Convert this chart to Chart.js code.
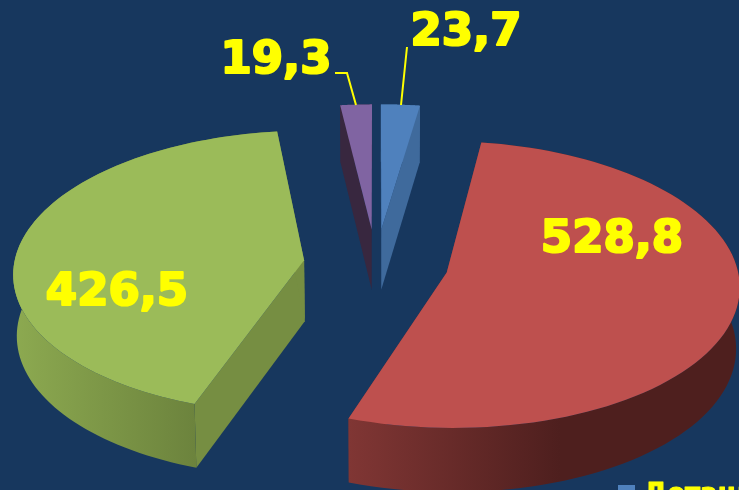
<!DOCTYPE html>
<html>
<head>
<meta charset="utf-8">
<title>Pie</title>
<script src="https://cdn.jsdelivr.net/npm/chart.js@4"></script>
<style>
  html, body { margin: 0; padding: 0; background: #17375E; overflow: hidden; }
  canvas { display: block; }
</style>
</head>
<body>
<canvas id="chart" width="739" height="490"></canvas>
<script>
const categories = ['Дотации', '', '', ''];
const values = [23.7, 528.8, 426.5, 19.3];
const valueLabels = ['23,7', '528,8', '426,5', '19,3'];

const topColors = ['#4F81BD', '#BE504E', '#9BBB59', '#8064A2'];
// flat colour of the straight walls, then left/right colour of the curved wall
const wallColors = ['#3F6A9C', '#7F3533', '#768E42', '#38273F'];
const rimColors = [
    ['#3F6A9C', '#3F6A9C', 381, 420],
    ['#803634', '#4E1F1E', 349, 560],
    ['#8CA950', '#6C833D', 16, 196],
    ['#38273F', '#38273F', 340, 372]
];
// where each value text is centred
const labelPos = [[466, 33], [612, 240], [117, 293], [276, 61]];

// view of the tilted disc
const view = { cx: 376, cy: 264, rx: 290, ry: 141, persp: 0.083, explode: 0.25 };

function project(u, v) {
    const w = 1 - view.persp * v;
    return { x: view.cx + view.rx * u / w, y: view.cy + view.ry * v / w, v: v };
}
// same point on the under side of the slice
function lower(p) {
    return { x: view.cx + (p.x - view.cx) * 0.99, y: p.y + 61 + 3 * p.v };
}
function fillPoly(ctx, pts, style) {
    ctx.beginPath();
    pts.forEach((p, i) => i ? ctx.lineTo(p.x, p.y) : ctx.moveTo(p.x, p.y));
    ctx.closePath();
    ctx.fillStyle = style;
    ctx.fill();
}

const pie3d = {
    id: 'pie3d',
    beforeDraw(chart) {
        const ctx = chart.ctx;
        ctx.save();
        ctx.fillStyle = '#17375E';
        ctx.fillRect(0, 0, chart.width, chart.height);
        ctx.restore();
    },
    // takes the angles from the pie elements and draws them tilted
    beforeDatasetsDraw(chart) {
        const ctx = chart.ctx;
        const arcs = chart.getDatasetMeta(0).data;
        ctx.save();
        arcs.forEach((arc, i) => {
            const a0 = arc.startAngle + Math.PI / 2;
            const a1 = arc.endAngle + Math.PI / 2;
            const mid = (a0 + a1) / 2;
            const ou = Math.sin(mid) * view.explode;
            const ov = -Math.cos(mid) * view.explode;
            const apex = project(ou, ov);
            const rim = [];
            for (let s = 0; s <= 90; s++) {
                const a = a0 + (a1 - a0) * s / 90;
                rim.push(project(ou + Math.sin(a), ov - Math.cos(a)));
            }
            const first = rim[0];
            const last = rim[rim.length - 1];
            // walls first, top face covers what is behind it
            fillPoly(ctx, [apex, first, lower(first), lower(apex)], wallColors[i]);
            fillPoly(ctx, [apex, last, lower(last), lower(apex)], wallColors[i]);
            const c = rimColors[i];
            const grad = ctx.createLinearGradient(c[2], 0, c[3], 0);
            grad.addColorStop(0, c[0]);
            grad.addColorStop(1, c[1]);
            fillPoly(ctx, rim.concat(rim.map(lower).reverse()), grad);
            fillPoly(ctx, [apex].concat(rim), topColors[i]);
        });
        ctx.restore();
        return false;
    },
    afterDraw(chart) {
        const ctx = chart.ctx;
        ctx.save();
        // leader lines of the two thin slices
        ctx.strokeStyle = '#FFFF00';
        ctx.lineWidth = 2;
        ctx.beginPath();
        ctx.moveTo(407, 47);
        ctx.lineTo(401, 105);
        ctx.moveTo(335, 73);
        ctx.lineTo(347, 73);
        ctx.lineTo(356, 105);
        ctx.stroke();
        // value texts, stroked to get close to the heavy face of the original
        ctx.font = 'bold 45px "DejaVu Sans"';
        ctx.textAlign = 'center';
        ctx.textBaseline = 'middle';
        ctx.fillStyle = '#FFFF00';
        ctx.lineWidth = 2.2;
        ctx.lineJoin = 'round';
        valueLabels.forEach((t, i) => {
            ctx.fillText(t, labelPos[i][0], labelPos[i][1]);
            ctx.strokeText(t, labelPos[i][0], labelPos[i][1]);
        });
        // legend, cut by the bottom of the picture
        ctx.fillStyle = topColors[0];
        ctx.fillRect(618, 485, 17, 17);
        ctx.fillStyle = '#FFFF00';
        ctx.font = 'bold 26px "DejaVu Sans"';
        ctx.textAlign = 'left';
        ctx.textBaseline = 'alphabetic';
        ctx.lineWidth = 1;
        ctx.fillText(categories[0], 644, 502);
        ctx.strokeText(categories[0], 644, 502);
        ctx.restore();
    }
};

const data = {
    labels: categories,
    datasets: [{ data: values, backgroundColor: topColors, borderWidth: 0 }]
};
const config = {
    type: 'pie',
    data,
    options: {
        responsive: false,
        animation: false,
        rotation: 0,
        plugins: { legend: { display: false }, tooltip: { enabled: false } }
    },
    plugins: [pie3d]
};
var chart = new Chart(document.getElementById('chart'), config);
</script>
</body>
</html>
